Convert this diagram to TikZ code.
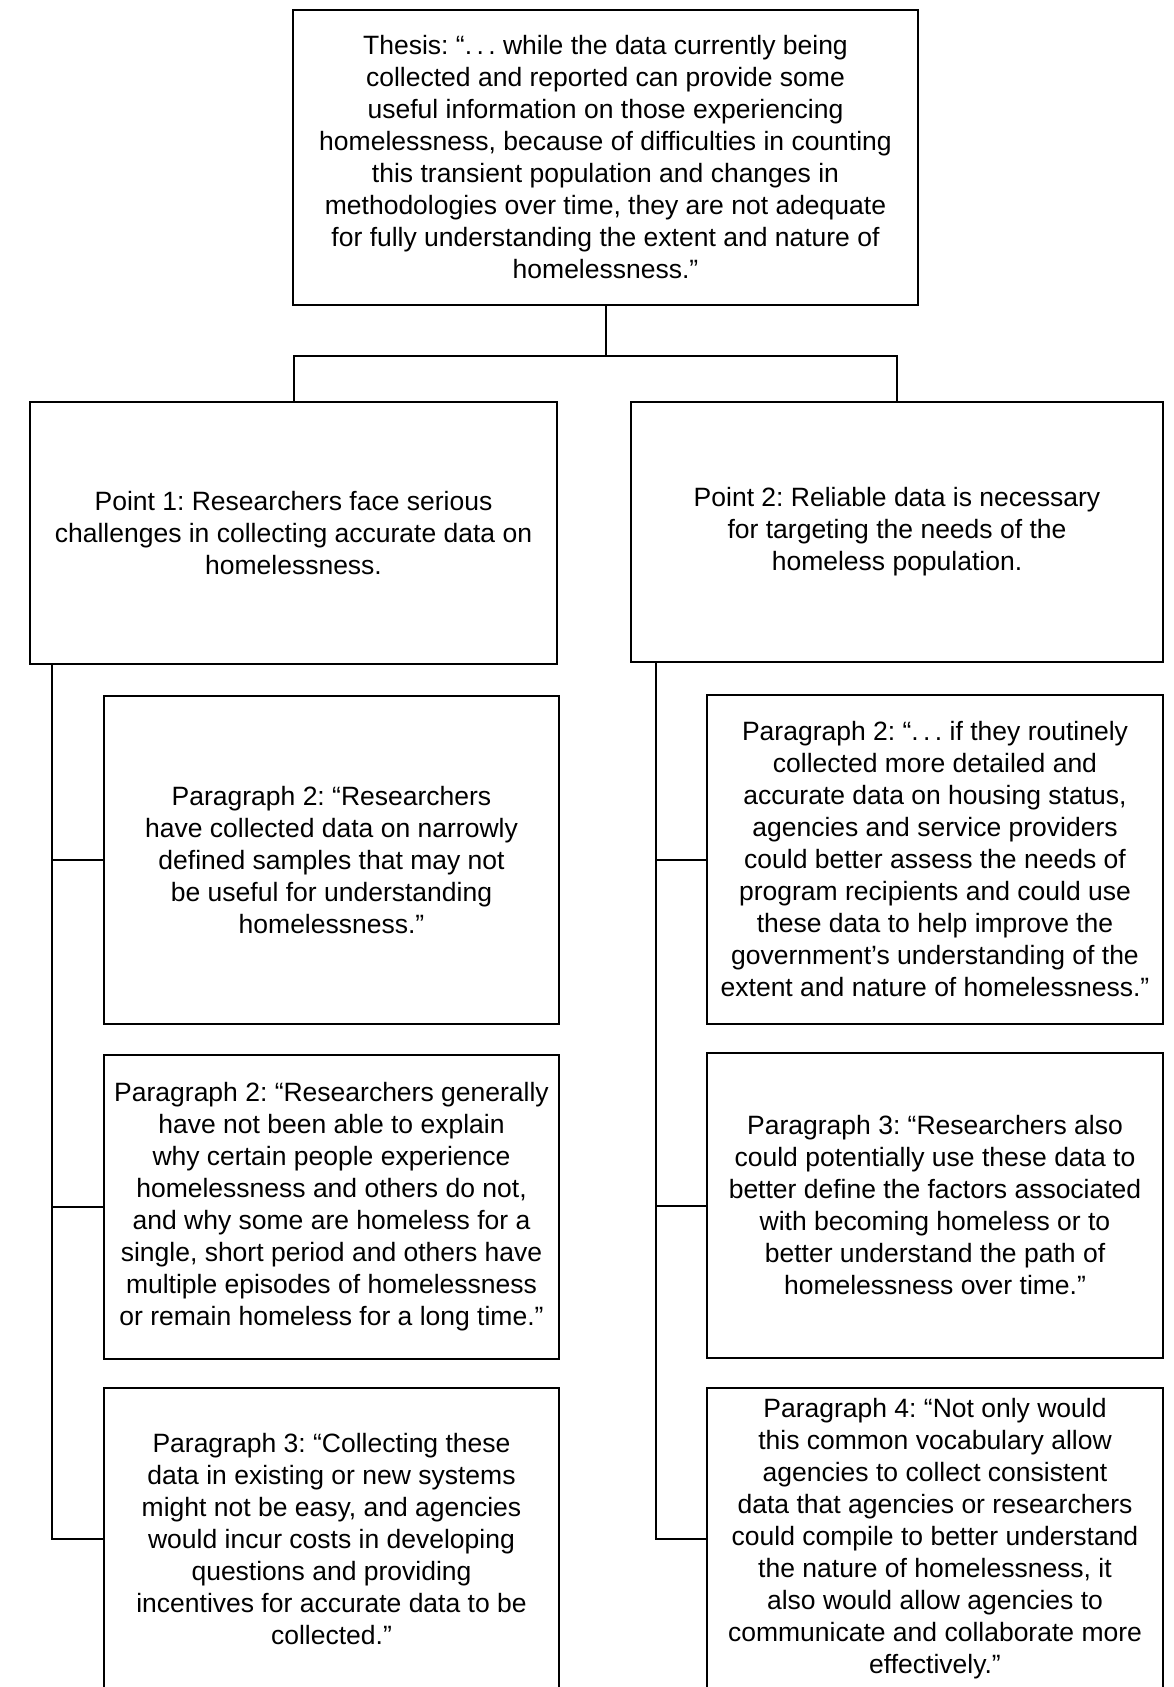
\documentclass[tikz,border=0pt]{standalone}
\usepackage{fontspec}
\setmainfont{Liberation Sans}
\frenchspacing
\begin{document}
\begin{tikzpicture}[x=1pt,y=-1pt,
  box/.style={draw, line width=2pt, align=center, inner sep=0pt,
    font=\fontsize{26.5}{32}\selectfont\frenchspacing},
  link/.style={line width=2pt}]
\useasboundingbox (0,0) rectangle (1173,1687);
\clip (0,0) rectangle (1173,1687);
\fill[white] (0,0) rectangle (1173,1687);

\node[box, minimum width=625, minimum height=295] (thesis) at (605.5,157.5)
 {Thesis: “.\,.\,.\ while the data currently being\\
  collected and reported can provide some\\
  useful information on those experiencing\\
  homelessness, because of difficulties in counting\\
  this transient population and changes in\\
  methodologies over time, they are not adequate\\
  for fully understanding the extent and nature of\\
  homelessness.”};

\node[box, minimum width=527, minimum height=262] (p1) at (293.5,533)
 {Point 1: Researchers face serious\\
  challenges in collecting accurate data on\\
  homelessness.};
\node[box, minimum width=532, minimum height=260] (p2) at (897,532)
 {Point 2: Reliable data is necessary\\
  for targeting the needs of the\\
  homeless population.};

\node[box, minimum width=455, minimum height=328] (l1) at (331.5,860)
 {Paragraph 2: “Researchers\\
  have collected data on narrowly\\
  defined samples that may not\\
  be useful for understanding\\
  homelessness.”};
\node[box, minimum width=455, minimum height=304] (l2) at (331.5,1207)
 {Paragraph 2: “Researchers generally\\
  have not been able to explain\\
  why certain people experience\\
  homelessness and others do not,\\
  and why some are homeless for a\\
  single, short period and others have\\
  multiple episodes of homelessness\\
  or remain homeless for a long time.”};
\node[box, minimum width=455, minimum height=302] (l3) at (331.5,1539)
 {Paragraph 3: “Collecting these\\
  data in existing or new systems\\
  might not be easy, and agencies\\
  would incur costs in developing\\
  questions and providing\\
  incentives for accurate data to be\\
  collected.”};

\node[box, minimum width=456, minimum height=329] (r1) at (935,859.5)
 {Paragraph 2: “.\,.\,.\ if they routinely\\
  collected more detailed and\\
  accurate data on housing status,\\
  agencies and service providers\\
  could better assess the needs of\\
  program recipients and could use\\
  these data to help improve the\\
  government’s understanding of the\\
  extent and nature of homelessness.”};
\node[box, minimum width=456, minimum height=305] (r2) at (935,1205.5)
 {Paragraph 3: “Researchers also\\
  could potentially use these data to\\
  better define the factors associated\\
  with becoming homeless or to\\
  better understand the path of\\
  homelessness over time.”};
\node[box, minimum width=456, minimum height=302] (r3) at (935,1539)
 {Paragraph 4: “Not only would\\
  this common vocabulary allow\\
  agencies to collect consistent\\
  data that agencies or researchers\\
  could compile to better understand\\
  the nature of homelessness, it\\
  also would allow agencies to\\
  communicate and collaborate more\\
  effectively.”};

% thesis to points
\coordinate (bar) at (605.5,356);
\draw[link] (thesis.south) -- (bar);
\draw[link] (p1.north) |- (bar) -| (p2.north);

% left trunk
\coordinate (lt) at ([xshift=23pt]p1.south west);
\draw[link] (lt) |- (l3.west);
\draw[link] (lt |- l1.west) -- (l1.west);
\draw[link] (lt |- l2.west) -- (l2.west);

% right trunk
\coordinate (rt) at ([xshift=26pt]p2.south west);
\draw[link] (rt) |- (r3.west);
\draw[link] (rt |- r1.west) -- (r1.west);
\draw[link] (rt |- r2.west) -- (r2.west);
\end{tikzpicture}
\end{document}
